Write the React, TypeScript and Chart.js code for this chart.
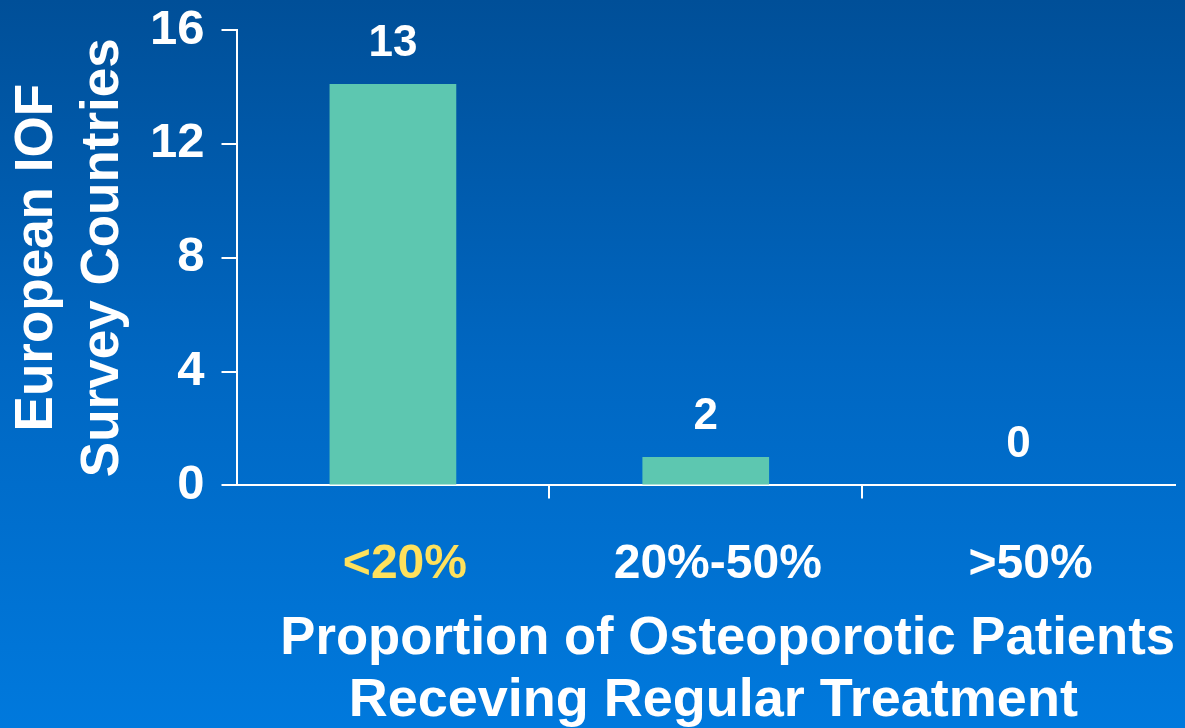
import React, { useEffect, useRef } from "react";
import { Chart, registerables } from "chart.js";

Chart.register(...registerables);

// Categories on the x axis
const categories = ["<20%", "20%-50%", ">50%"];
// Counts printed above each bar
const countLabels = ["13", "2", "0"];
// Bar heights as drawn against the y axis scale
const barHeights = [14.1, 1.0, 0];
// Y axis range / ticks
const yMin = 0;
const yMax = 16;
const yStep = 4;
// Tick label colours per category
const categoryColors = ["#FFE15C", "#FFFFFF", "#FFFFFF"];
// Axis titles
const yTitle = ["European IOF", "Survey Countries"];
const xTitle = ["   Proportion of Osteoporotic Patients", " Receving Regular Treatment"];

const FAMILY = "'Liberation Sans', Arial, Helvetica, sans-serif";

const valueLabelPlugin = {
  id: "valueLabels",
  afterDatasetsDraw(chart: any) {
    const meta = chart.getDatasetMeta(0);
    const ctx = chart.ctx;
    ctx.save();
    ctx.font = `bold 44px ${FAMILY}`;
    ctx.fillStyle = "#FFFFFF";
    ctx.textAlign = "center";
    ctx.textBaseline = "alphabetic";
    meta.data.forEach((bar: any, i: number) => {
      ctx.fillText(countLabels[i], bar.x, bar.y - 28);
    });
    ctx.restore();
  },
};

export default function App() {
  const canvasRef = useRef<HTMLCanvasElement | null>(null);

  useEffect(() => {
    if (!canvasRef.current) return;
    const chart = new Chart(canvasRef.current, {
      type: "bar",
      data: {
        labels: categories,
        datasets: [
          {
            data: barHeights,
            backgroundColor: "#5DC7B0",
            borderWidth: 0,
            categoryPercentage: 1,
            barPercentage: 0.405,
          },
        ],
      },
      options: {
        animation: false,
        responsive: true,
        maintainAspectRatio: false,
        layout: { padding: { top: 30, right: 10, left: 0, bottom: 0 } },
        plugins: {
          legend: { display: false },
          tooltip: { enabled: false },
        },
        scales: {
          x: {
            grid: {
              offset: true,
              drawOnChartArea: false,
              drawTicks: true,
              tickLength: 13,
              lineWidth: 2,
              color: (c: any) => (c.index === 1 || c.index === 2 ? "#FFFFFF" : "rgba(0,0,0,0)"),
            },
            border: { display: true, color: "#FFFFFF", width: 2 },
            ticks: {
              color: categoryColors,
              font: { size: 48, weight: "bold", family: FAMILY },
              padding: 38,
              labelOffset: 12,
              maxRotation: 0,
            },
            title: {
              display: true,
              text: xTitle,
              color: "#FFFFFF",
              font: { size: 54, weight: "bold", family: FAMILY, lineHeight: 62 / 54 },
              padding: { top: -24, bottom: -4 },
            },
          },
          y: {
            min: yMin,
            max: yMax,
            ticks: {
              stepSize: yStep,
              color: "#FFFFFF",
              font: { size: 49, weight: "bold", family: FAMILY, lineHeight: 0.5 },
              padding: 17,
            },
            grid: {
              drawOnChartArea: false,
              drawTicks: true,
              tickLength: 15,
              lineWidth: 2,
              color: "#FFFFFF",
            },
            border: { display: true, color: "#FFFFFF", width: 2 },
            title: {
              display: true,
              text: yTitle,
              color: "#FFFFFF",
              font: { size: 53, weight: "bold", family: FAMILY, lineHeight: 66 / 53 },
              padding: { top: 4, bottom: -3 },
            },
          },
        },
      },
      plugins: [valueLabelPlugin],
    });
    return () => chart.destroy();
  }, []);

  return (
    <div
      style={{
        position: "fixed",
        left: 0,
        top: 0,
        width: 1185,
        height: 728,
        background: "linear-gradient(180deg, #004F98 0%, #0067C2 50%, #0079DD 100%)",
      }}
    >
      <canvas ref={canvasRef} />
    </div>
  );
}
